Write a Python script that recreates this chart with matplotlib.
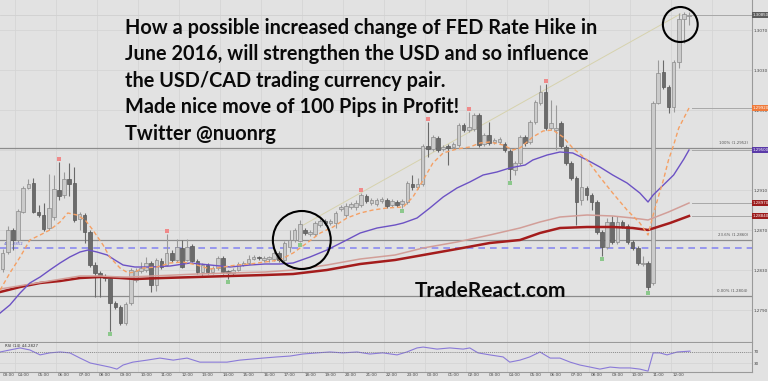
import matplotlib.pyplot as plt
import numpy as np
from matplotlib.patches import Ellipse
from matplotlib.transforms import blended_transform_factory

# ---- candles (USD/CAD), one row of ten per line ----
OPEN = [
    1.2831, 1.2848, 1.2870, 1.2860, 1.2888, 1.2912, 1.2917, 1.2888, 1.2885, 1.2872,
    1.2883, 1.2910, 1.2905, 1.2921, 1.2917, 1.2881, 1.2885, 1.2868, 1.2835, 1.2827,
    1.2824, 1.2822, 1.2797, 1.2793, 1.2777, 1.2797, 1.2820, 1.2829, 1.2830, 1.2837,
    1.2815, 1.2839, 1.2835, 1.2847, 1.2840, 1.2852, 1.2840, 1.2854, 1.2839, 1.2828,
    1.2835, 1.2828, 1.2832, 1.2842, 1.2829, 1.2827, 1.2830, 1.2835, 1.2837, 1.2841,
    1.2843, 1.2840, 1.2841, 1.2841, 1.2847, 1.2840, 1.2853, 1.2860, 1.2859, 1.2870,
    1.2866, 1.2866, 1.2875, 1.2879, 1.2877, 1.2877, 1.2891, 1.2885, 1.2893, 1.2893,
    1.2895, 1.2904, 1.2897, 1.2896, 1.2899, 1.2900, 1.2895, 1.2898, 1.2896, 1.2898,
    1.2916, 1.2913, 1.2916, 1.2954, 1.2951, 1.2962, 1.2951, 1.2954, 1.2953, 1.2955,
    1.2975, 1.2970, 1.2971, 1.2985, 1.2956, 1.2965, 1.2958, 1.2958, 1.2956, 1.2949,
    1.2930, 1.2937, 1.2963, 1.2958, 1.2978, 1.2997, 1.3008, 1.2972, 1.2970, 1.2977,
    1.2953, 1.2937, 1.2922, 1.2900, 1.2912, 1.2905, 1.2898, 1.2868, 1.2853, 1.2878,
    1.2858, 1.2878, 1.2874, 1.2858, 1.2852, 1.2836, 1.2837, 1.2817, 1.2997, 1.3028,
    1.3013, 1.2993, 1.3038, 1.3081, 1.3084,
]
HIGH = [
    1.2851, 1.2874, 1.2872, 1.2891, 1.2914, 1.2921, 1.2922, 1.2895, 1.2897, 1.2926,
    1.2925, 1.2938, 1.2928, 1.2937, 1.2933, 1.2888, 1.2887, 1.2870, 1.2838, 1.2829,
    1.2826, 1.2824, 1.2799, 1.2795, 1.2798, 1.2832, 1.2832, 1.2838, 1.2843, 1.2839,
    1.2842, 1.2842, 1.2866, 1.2850, 1.2861, 1.2860, 1.2861, 1.2856, 1.2841, 1.2837,
    1.2837, 1.2834, 1.2844, 1.2844, 1.2830, 1.2832, 1.2838, 1.2839, 1.2845, 1.2845,
    1.2844, 1.2844, 1.2844, 1.2849, 1.2849, 1.2859, 1.2870, 1.2872, 1.2880, 1.2872,
    1.2870, 1.2879, 1.2881, 1.2881, 1.2881, 1.2889, 1.2895, 1.2897, 1.2898, 1.2900,
    1.2907, 1.2906, 1.2902, 1.2902, 1.2903, 1.2902, 1.2901, 1.2900, 1.2901, 1.2919,
    1.2925, 1.2922, 1.2956, 1.2978, 1.2965, 1.2964, 1.2955, 1.2956, 1.2958, 1.2977,
    1.2977, 1.2988, 1.2987, 1.2987, 1.2967, 1.2978, 1.2962, 1.2963, 1.2958, 1.2951,
    1.2939, 1.2965, 1.2965, 1.2980, 1.3000, 1.3015, 1.3016, 1.3000, 1.2995, 1.2979,
    1.2955, 1.2939, 1.2924, 1.2943, 1.2914, 1.2907, 1.2900, 1.2870, 1.2882, 1.2884,
    1.2884, 1.2880, 1.2876, 1.2860, 1.2854, 1.2844, 1.2839, 1.2999, 1.3040, 1.3040,
    1.3015, 1.3040, 1.3087, 1.3088, 1.3088,
]
LOW = [
    1.2828, 1.2846, 1.2850, 1.2858, 1.2887, 1.2911, 1.2887, 1.2883, 1.2869, 1.2870,
    1.2880, 1.2900, 1.2902, 1.2904, 1.2878, 1.2870, 1.2857, 1.2833, 1.2803, 1.2803,
    1.2819, 1.2769, 1.2791, 1.2775, 1.2775, 1.2795, 1.2818, 1.2827, 1.2828, 1.2808,
    1.2809, 1.2831, 1.2834, 1.2838, 1.2838, 1.2832, 1.2839, 1.2838, 1.2826, 1.2823,
    1.2826, 1.2826, 1.2830, 1.2826, 1.2821, 1.2825, 1.2829, 1.2834, 1.2836, 1.2840,
    1.2840, 1.2838, 1.2838, 1.2839, 1.2838, 1.2838, 1.2848, 1.2858, 1.2858, 1.2865,
    1.2864, 1.2864, 1.2873, 1.2875, 1.2875, 1.2872, 1.2889, 1.2883, 1.2891, 1.2890,
    1.2893, 1.2897, 1.2895, 1.2894, 1.2897, 1.2892, 1.2893, 1.2893, 1.2892, 1.2896,
    1.2910, 1.2911, 1.2914, 1.2943, 1.2949, 1.2948, 1.2949, 1.2935, 1.2951, 1.2953,
    1.2968, 1.2968, 1.2969, 1.2953, 1.2954, 1.2955, 1.2956, 1.2956, 1.2948, 1.2920,
    1.2925, 1.2935, 1.2954, 1.2956, 1.2976, 1.2995, 1.2970, 1.2970, 1.2950, 1.2952,
    1.2935, 1.2920, 1.2875, 1.2895, 1.2900, 1.2890, 1.2866, 1.2844, 1.2851, 1.2856,
    1.2856, 1.2872, 1.2856, 1.2850, 1.2835, 1.2834, 1.2810, 1.2815, 1.2996, 1.3011,
    1.2987, 1.2988, 1.3032, 1.3057, 1.3075,
]
CLOSE = [
    1.2847, 1.2870, 1.2860, 1.2889, 1.2912, 1.2916, 1.2888, 1.2885, 1.2871, 1.2892,
    1.2911, 1.2904, 1.2921, 1.2916, 1.2880, 1.2886, 1.2868, 1.2835, 1.2827, 1.2823,
    1.2822, 1.2797, 1.2793, 1.2777, 1.2796, 1.2830, 1.2829, 1.2832, 1.2837, 1.2815,
    1.2840, 1.2833, 1.2847, 1.2840, 1.2853, 1.2833, 1.2853, 1.2839, 1.2828, 1.2835,
    1.2828, 1.2832, 1.2842, 1.2828, 1.2827, 1.2830, 1.2836, 1.2837, 1.2841, 1.2843,
    1.2842, 1.2842, 1.2843, 1.2847, 1.2840, 1.2857, 1.2860, 1.2870, 1.2876, 1.2867,
    1.2868, 1.2877, 1.2879, 1.2877, 1.2879, 1.2887, 1.2893, 1.2894, 1.2896, 1.2897,
    1.2905, 1.2899, 1.2900, 1.2900, 1.2901, 1.2894, 1.2899, 1.2895, 1.2899, 1.2917,
    1.2913, 1.2916, 1.2954, 1.2951, 1.2963, 1.2950, 1.2953, 1.2952, 1.2956, 1.2975,
    1.2970, 1.2973, 1.2985, 1.2955, 1.2965, 1.2957, 1.2960, 1.2961, 1.2950, 1.2931,
    1.2937, 1.2963, 1.2957, 1.2978, 1.2998, 1.3008, 1.2972, 1.2977, 1.2972, 1.2954,
    1.2937, 1.2922, 1.2898, 1.2913, 1.2905, 1.2898, 1.2868, 1.2853, 1.2878, 1.2858,
    1.2878, 1.2874, 1.2858, 1.2852, 1.2837, 1.2837, 1.2813, 1.2997, 1.3027, 1.3013,
    1.2993, 1.3038, 1.3081, 1.3086, 1.3085,
]

# fractal markers (candle index)
FRACTAL_UP = [11, 32, 70, 83, 91, 106]
FRACTAL_DOWN = [21, 44, 58, 78, 99, 117, 126]

# moving averages read at sample candles
FAST_X = [-0.5, 1.4, 3.4, 5.3, 7.3, 9.2, 11.2, 12.7, 14.5, 16.1, 17.6, 19.6, 20.9,
          22.9, 24.5, 25.8, 27.4, 30.1, 32.7, 35.2, 37.9, 40.5, 43.0, 45.7, 48.3,
          51.2, 54.1, 56.7, 59.4, 62.0, 64.5, 67.2, 69.8, 72.3, 75.0, 78.2, 80.1,
          82.1, 84.0, 86.0, 88.7, 91.2, 93.2, 95.1, 97.7, 99.6, 101.0, 103.5, 105.5,
          107.4, 109.4, 111.3, 114.1, 116.6, 119.1, 121.9, 124.4, 126.0, 127.0,
          128.0, 129.0, 130.0, 131.0, 132.0, 133.0, 134.0]
FAST_Y = [1.2810, 1.2827, 1.2843, 1.2860, 1.2865, 1.2870, 1.2878, 1.2887, 1.2885,
          1.2880, 1.2870, 1.2855, 1.2843, 1.2832, 1.2827, 1.2828, 1.2832, 1.2833,
          1.2837, 1.2838, 1.2835, 1.2831, 1.2833, 1.2835, 1.2836, 1.2838, 1.2840,
          1.2847, 1.2857, 1.2867, 1.2873, 1.2882, 1.2887, 1.2890, 1.2892, 1.2893,
          1.2903, 1.2920, 1.2937, 1.2947, 1.2951, 1.2953, 1.2957, 1.2958, 1.2955,
          1.2950, 1.2952, 1.2963, 1.2969, 1.2970, 1.2963, 1.2952, 1.2940, 1.2923,
          1.2907, 1.2890, 1.2877, 1.2865, 1.2885, 1.2903, 1.2920, 1.2940, 1.2955,
          1.2972, 1.2982, 1.2992]

MID_X = [-0.5, 1.4, 3.4, 5.3, 7.3, 9.2, 11.2, 13.1, 15.1, 16.7, 18.4, 20.4, 21.9,
         23.5, 25.8, 28.8, 32.7, 36.6, 40.5, 44.4, 48.3, 51.2, 54.1, 56.7, 60.0,
         63.3, 66.4, 69.8, 73.1, 76.6, 78.2, 80.9, 83.4, 86.0, 88.7, 91.2, 93.8,
         96.5, 99.0, 102.0, 103.5, 106.3, 108.8, 111.3, 114.1, 116.6, 119.1, 121.9,
         124.4, 126.0, 127.0, 128.0, 129.0, 130.0, 131.0, 132.0, 133.0, 134.0]
MID_Y = [1.2787, 1.2795, 1.2807, 1.2817, 1.2823, 1.2830, 1.2837, 1.2843, 1.2848,
         1.2850, 1.2848, 1.2845, 1.2840, 1.2835, 1.2833, 1.2833, 1.2834, 1.2837,
         1.2835, 1.2833, 1.2835, 1.2836, 1.2836, 1.2837, 1.2843, 1.2850, 1.2858,
         1.2867, 1.2872, 1.2875, 1.2877, 1.2882, 1.2892, 1.2903, 1.2912, 1.2918,
         1.2925, 1.2928, 1.2932, 1.2935, 1.2940, 1.2945, 1.2948, 1.2947, 1.2940,
         1.2933, 1.2925, 1.2917, 1.2907, 1.2898, 1.2905, 1.2910, 1.2915, 1.2920,
         1.2925, 1.2933, 1.2941, 1.2950]

SLOW_X = [-0.5, 15.1, 19.0, 22.9, 24.9, 37.9, 51.2, 56.7, 63.3, 69.8, 76.6, 82.1,
          88.7, 95.1, 101.0, 104.9, 108.8, 114.1, 119.1, 123.0, 126.0, 130.0, 134.0]
SLOW_Y = [1.2811, 1.2824, 1.2824, 1.2823, 1.2823, 1.2826, 1.2828, 1.2830, 1.2835,
          1.2841, 1.2845, 1.2852, 1.2858, 1.2865, 1.2872, 1.2878, 1.2883, 1.2885,
          1.2884, 1.2882, 1.2880, 1.2888, 1.2897]

LONG_X = [-0.5, 3.4, 7.3, 11.2, 15.1, 19.0, 22.9, 25.8, 31.3, 37.9, 44.4, 51.2,
          56.7, 63.3, 69.8, 76.6, 82.1, 88.7, 95.1, 101.0, 104.9, 108.8, 114.1,
          119.1, 123.0, 126.0, 130.3, 134.0]
LONG_Y = [1.2808, 1.2813, 1.2817, 1.2819, 1.2822, 1.2823, 1.2822, 1.2821, 1.2822,
          1.2823, 1.2824, 1.2825, 1.2826, 1.2830, 1.2836, 1.2840, 1.2845, 1.2851,
          1.2857, 1.2860, 1.2867, 1.2872, 1.2873, 1.2873, 1.2872, 1.2870, 1.2877,
          1.2884]

# RSI(14) read at sample candles
RSI_X = [-0.5, 1.4, 3.4, 5.3, 7.3, 9.2, 11.2, 13.1, 15.1, 17.1, 19.0, 20.9, 22.3,
         23.5, 25.4, 28.2, 30.7, 33.3, 36.0, 38.5, 41.1, 43.8, 46.3, 48.9, 50.8,
         53.6, 56.1, 58.6, 61.4, 63.9, 66.4, 69.2, 71.7, 74.2, 77.0, 78.9, 80.9,
         82.1, 84.8, 87.3, 89.9, 91.2, 92.8, 95.1, 97.7, 99.0, 101.0, 102.9, 104.9,
         106.9, 108.8, 110.8, 112.7, 114.7, 116.6, 118.6, 120.5, 122.5, 124.4,
         126.0, 127.0, 128.3, 129.7, 131.7, 134.2]
RSI_Y = [69, 76, 83, 76, 59, 66, 69, 66, 48, 31, 24, 17, 10, 24, 34, 41, 48, 41, 48,
         34, 34, 34, 41, 45, 48, 52, 55, 62, 66, 69, 66, 69, 62, 66, 59, 69, 83, 86,
         79, 83, 79, 83, 66, 59, 52, 34, 41, 52, 69, 48, 48, 34, 24, 17, 10, 17, 14,
         14, 10, 3, 66, 66, 59, 69, 72]

FIB_LEVELS = [1.2952, 1.2860, 1.2804]
FIB_LABELS = ["100% (1.2952)", "23.6% (1.2860)", "0.00% (1.2804)"]
PIVOT = 1.2852
TREND = ([58.0, 132.3], [1.2873, 1.3086])

PRICE_TICKS = [1.3070, 1.3030, 1.2990, 1.2950, 1.2910, 1.2870, 1.2830, 1.2790]
TIME_TICKS = list(range(0, 136, 4))
TIME_LABELS = [f"{(3 + k) % 24:02d}:00" for k in range(len(TIME_TICKS))]
GRID_X = np.arange(2.4, 146, 8)

TITLE_LINES = [
    "How a possible increased change of FED Rate Hike in",
    "June 2016, will strengthen the USD and so influence",
    "the USD/CAD trading currency pair.",
    "Made nice move of 100 Pips in Profit!",
    "Twitter @nuonrg",
]

BG = "#e2e2e2"
GRID = "#d5d5d5"
W, H = 768, 381


def px_box(x0, y0, x1, y1):
    return [x0 / W, 1 - y1 / H, (x1 - x0) / W, (y1 - y0) / H]


fig = plt.figure(figsize=(W / 100, H / 100), dpi=100)
fig.patch.set_facecolor(BG)

ax = fig.add_axes(px_box(0, 0, 752, 342))
rsi_ax = fig.add_axes(px_box(0, 343, 752, 372))
XLIM = (-0.527, 146.3)

for a in (ax, rsi_ax):
    a.set_facecolor(BG)
    a.set_xlim(*XLIM)
    for side in ("left", "top"):
        a.spines[side].set_visible(False)
    for side in ("right", "bottom"):
        a.spines[side].set_color("#9a9a9a")
        a.spines[side].set_linewidth(0.8)
    a.set_xticks(TIME_TICKS)
    a.grid(True, axis="y", color=GRID, lw=0.6)
    for gx in GRID_X:
        a.axvline(gx, color=GRID, lw=0.6, zorder=0)
    a.set_axisbelow(True)
    a.tick_params(length=0, labelsize=3, colors="#444444", pad=1)

ax.set_ylim(1.2758, 1.3100)
ax.set_yticks(PRICE_TICKS)
ax.yaxis.tick_right()
ax.set_yticklabels([f"{p:.4f}" for p in PRICE_TICKS])
ax.set_xticklabels([])

# candles
o = np.array(OPEN)
c = np.array(CLOSE)
hi = np.array(HIGH)
lo = np.array(LOW)
idx = np.arange(len(o))
up = c >= o
ax.vlines(idx[up], lo[up], hi[up], color="#9a9a9a", lw=0.8, zorder=3)
ax.vlines(idx[~up], lo[~up], hi[~up], color="#6a6a6a", lw=0.8, zorder=3)
body = np.maximum(np.abs(c - o), 0.00008)
ax.bar(idx[up], body[up], bottom=o[up], width=0.7, color="#cbcbcb",
       edgecolor="#8a8a8a", lw=0.5, zorder=4)
ax.bar(idx[~up], body[~up], bottom=c[~up], width=0.7, color="#6b6b6b",
       edgecolor="#585858", lw=0.5, zorder=4)

ax.scatter(FRACTAL_UP, hi[FRACTAL_UP] + 0.0003, marker="s", s=7,
           color="#f08a8a", zorder=5, lw=0)
ax.scatter(FRACTAL_DOWN, lo[FRACTAL_DOWN] - 0.0003, marker="s", s=7,
           color="#8cc88c", zorder=5, lw=0)

# horizontal levels
for lvl, lab in zip(FIB_LEVELS, FIB_LABELS):
    ax.axhline(lvl, color="#8c8c8c", lw=0.9, zorder=2)
    ax.text(145.5, lvl + 0.00025, lab, fontsize=2.8, color="#555555",
            ha="right", va="bottom")
ax.axhline(PIVOT, color="#8a8af0", lw=1.2, dashes=(4, 3), zorder=2)
ax.text(0.2, PIVOT + 0.0002, "46.1.2852", fontsize=2.8, color="#6060d0",
        va="bottom")
ax.plot(*TREND, color="#d6d2ad", lw=0.7, zorder=2)
ax.axhline(CLOSE[-1], color="#d0d0d0", lw=0.6, zorder=1)

# moving averages
ax.plot(LONG_X, LONG_Y, color="#a41c1c", lw=1.8, zorder=6)
ax.plot(SLOW_X, SLOW_Y, color="#d29e98", lw=1.1, zorder=6)
ax.plot(MID_X, MID_Y, color="#6c52c4", lw=1.0, zorder=6)
ax.plot(FAST_X, FAST_Y, color="#f5a064", lw=1.0, dashes=(3, 2), zorder=6)

# price flags on the right axis
trans = blended_transform_factory(ax.transAxes, ax.transData)
flags = [(CLOSE[-1], "#5c5c5c"), (FAST_Y[-1], "#f07a3a"), (MID_Y[-1], "#5a3aa8"),
         (SLOW_Y[-1], "#9c1c1c"), (LONG_Y[-1], "#9c1c1c")]
for val, col in flags:
    ax.plot([134.5, XLIM[1]], [val, val], color="#a8a8a8", lw=0.7, zorder=2)
    ax.text(1.001, val, f"{val:.5f}", transform=trans, fontsize=2.8,
            color="white", va="center", ha="left", clip_on=False,
            bbox=dict(boxstyle="square,pad=0.25", fc=col, ec="none"))

# circles
ax.add_patch(Ellipse((58.4, 1.2860), 11.3, 0.0058, fill=False, ec="black",
                     lw=1.5, zorder=8))
ax.add_patch(Ellipse((132.3, 1.30755), 6.8, 0.0035, fill=False, ec="black",
                     lw=1.5, zorder=8))

# RSI panel
rsi_ax.set_ylim(0, 100)
rsi_ax.set_yticks([30, 70])
rsi_ax.yaxis.tick_right()
rsi_ax.set_xticks(TIME_TICKS)
rsi_ax.set_xticklabels(TIME_LABELS)
rsi_ax.get_xticklabels()[0].set_horizontalalignment("left")
rsi_ax.plot(RSI_X, RSI_Y, color="#8a7ad8", lw=0.8)
rsi_ax.axhline(70, color="#777777", lw=0.6, ls=(0, (1, 1.5)))
rsi_ax.text(0.5, 88, "RSI (14) 44.2827", fontsize=2.8, color="#333333", va="center")

# annotation text
for k, line in enumerate(TITLE_LINES):
    fig.text(125 / W, 1 - (34 + 26.4 * k) / H, line, fontsize=14.3,
             fontweight="bold", family="Lato", color="#0a0a0a", va="baseline")
fig.text(415 / W, 1 - 297 / H, "TradeReact.com", fontsize=15,
         fontweight="bold", family="Lato", color="#0a0a0a", va="baseline")

fig.savefig("out.png", dpi=100, facecolor=BG)
